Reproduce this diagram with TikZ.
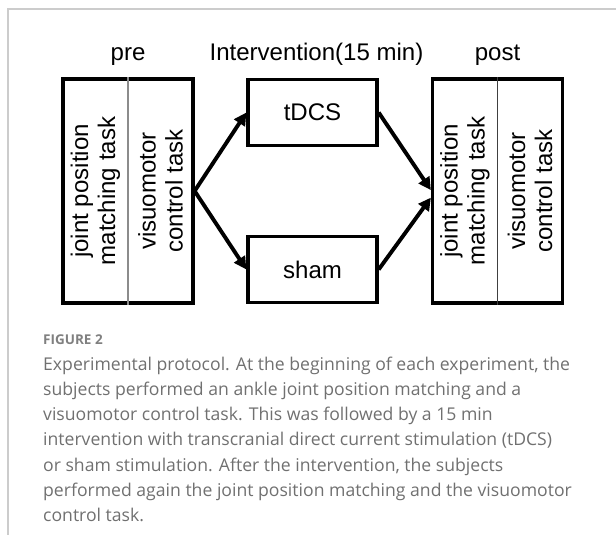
\documentclass[tikz,border=0pt]{standalone}
\usepackage{fontspec}
\setmainfont{Liberation Sans}
\newfontfamily\capfont{Open Sans}
\usepackage{tikz}
\usetikzlibrary{arrows.meta,positioning}
\usepackage{xcolor}
\definecolor{capgrey}{HTML}{707070}
\definecolor{figgrey}{HTML}{808080}
\definecolor{rulegrey}{HTML}{CCCCCC}
\definecolor{splitgrey}{HTML}{8C8C8C}
\tikzset{
  stage/.style={draw=black, line width=1.1mm, minimum width=4.33cm,
                minimum height=7.47cm, inner sep=0pt},
  treat/.style={draw=black, line width=1.1mm, minimum width=4.3cm,
                minimum height=2.2cm, inner sep=0pt,
                font=\fontsize{22.8}{25.6}\selectfont},
  task/.style={rotate=90, align=center, inner sep=0pt,
               font=\fontsize{22.8}{25.6}\selectfont},
  head/.style={anchor=base, inner sep=0pt,
               font=\fontsize{22.8}{25.6}\selectfont},
  split/.style={draw=splitgrey, line width=0.35mm},
  flow/.style={-{Triangle[length=4.2mm,width=4.2mm]}, line width=1.3mm},
  frame/.style={draw=rulegrey, line width=0.45mm},
}

\begin{document}
\begin{tikzpicture}

\useasboundingbox (0,0) rectangle (20.533,-17.833);

% page rules
\coordinate (c0) at (0.267,-0.3);
\coordinate (c1) at (20.533,-0.3);
\coordinate (c2) at (0.267,-17.833);
\draw[frame] (c1) -- (c0) -- (c2);

\node[stage] (pre)  at (4.267,-6.367) {};
\node[stage] (post) at (16.583,-6.367) {};
\node[treat] (tdcs) at (10.417,-3.75) {tDCS};
\node[treat] (sham) at (10.417,-8.983) {sham};

\draw[split] (pre.north) -- (pre.south);
\draw[split, draw=black!75] (post.north) -- (post.south);

\node[task] (pre1)  at ([xshift=-1.083cm]pre.center)  {joint position\\matching task};
\node[task] (pre2)  at ([xshift=1.083cm]pre.center)   {visuomotor\\control task};
\node[task] (post1) at ([xshift=-1.083cm]post.center) {joint position\\matching task};
\node[task] (post2) at ([xshift=1.083cm]post.center)  {visuomotor\\control task};

\node[head] (lpre)  at (4.267,-2.033)  {pre};
\node[head] (lint)  at (10.55,-2.033)  {Intervention(15 min)};
\node[head] (lpost) at (16.583,-2.033) {post};

\draw[flow] (pre.east) -- (tdcs.west);
\draw[flow] (pre.east) -- (sham.west);
\draw[flow] (tdcs.east) -- ([yshift=0.3mm]post.west);
\draw[flow] (sham.east) -- ([yshift=-2.2mm]post.west);

% caption
\node[anchor=west, inner sep=0pt, text=figgrey,
      font=\capfont\bfseries\fontsize{12.8}{15}\selectfont] (fig) at (1.433,-11.33) {FIGURE 2};
\node[anchor=north west, inner sep=0pt, text=capgrey, align=left,
      font=\capfont\fontsize{16.7}{23.8}\selectfont] (cap) at (1.433,-11.9)
  {Experimental protocol. At the beginning of each experiment, the\\
   subjects performed an ankle joint position matching and a\\
   visuomotor control task. This was followed by a 15 min\\
   intervention with transcranial direct current stimulation (tDCS)\\
   or sham stimulation. After the intervention, the subjects\\
   performed again the joint position matching and the visuomotor\\
   control task.};

\end{tikzpicture}
\end{document}
